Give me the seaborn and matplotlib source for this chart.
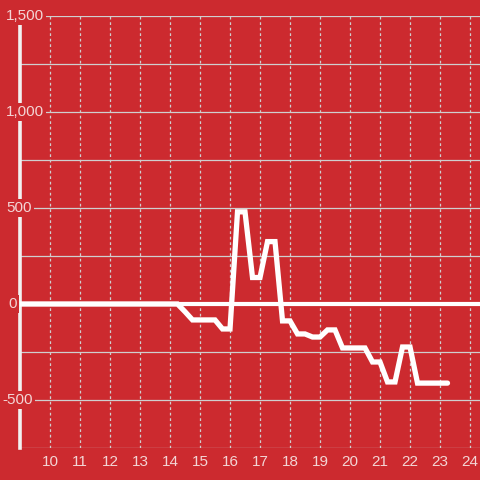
import matplotlib
matplotlib.use("Agg")
import matplotlib.pyplot as plt
import matplotlib.transforms as mtransforms
import seaborn as sns
import pandas as pd

# ---- data ----
hours = [9.0, 9.25, 9.5, 9.75, 10.0, 10.25, 10.5, 10.75, 11.0, 11.25, 11.5, 11.75,
         12.0, 12.25, 12.5, 12.75, 13.0, 13.25, 13.5, 13.75, 14.0, 14.25, 14.5, 14.75,
         15.0, 15.25, 15.5, 15.75, 16.0, 16.25, 16.5, 16.75, 17.0, 17.25, 17.5, 17.75,
         18.0, 18.25, 18.5, 18.75, 19.0, 19.25, 19.5, 19.75, 20.0, 20.25, 20.5, 20.75,
         21.0, 21.25, 21.5, 21.75, 22.0, 22.25, 22.5, 22.75, 23.0, 23.25]
values = [0, 0, 0, 0, 0, 0, 0, 0, 0, 0, 0, 0,
          0, 0, 0, 0, 0, 0, 0, 0, 0, 0, -40, -83,
          -83, -83, -83, -130, -130, 480, 480, 138, 138, 325, 325, -88,
          -88, -156, -156, -172, -172, -135, -135, -229, -229, -229, -229, -302,
          -302, -406, -406, -224, -224, -412, -412, -412, -412, -412]
x_ticks = [10, 11, 12, 13, 14, 15, 16, 17, 18, 19, 20, 21, 22, 23, 24]
y_ticks = [-500, 0, 500, 1000, 1500]
y_tick_labels = ["-500", "0", "500", "1,000", "1,500"]
y_grid = [-750, -500, -250, 0, 250, 500, 750, 1000, 1250, 1500]

BG = "#CC2A2F"
GRID = "#CFCFCF"
LABEL = "#F3D5D5"

sns.set_style("white", {"axes.facecolor": BG, "figure.facecolor": BG})
plt.rcParams["font.family"] = ["Liberation Sans", "DejaVu Sans"]

fig = plt.figure(figsize=(4.8, 4.8), dpi=100)
ax = fig.add_axes([20 / 480, 1 - 448 / 480, 1 - 20 / 480, (448 - 16) / 480])
ax.set_facecolor(BG)

df = pd.DataFrame({"hour": hours, "value": values})

ax.set_xlim(9.0, 24.333)
ax.set_ylim(-750, 1500)

# grid
for g in y_grid:
    ax.axhline(g, color=GRID, lw=0.9, zorder=1)
for t in x_ticks:
    ax.axvline(t, color=GRID, lw=0.9, linestyle=(0, (2.2, 2.2)), zorder=1)

# zero line
ax.axhline(0, color="white", lw=3.0, zorder=2)

sns.lineplot(data=df, x="hour", y="value", ax=ax, color="white", lw=3.8,
             zorder=4, solid_joinstyle="miter")

for s in ["top", "right", "bottom"]:
    ax.spines[s].set_visible(False)
ax.spines["left"].set_color("#F2F2F2")
ax.spines["left"].set_linewidth(2.6)
ax.spines["left"].set_zorder(3)

ax.set_xticks(x_ticks)
ax.set_xticklabels([str(t) for t in x_ticks])
ax.tick_params(axis="x", length=0, pad=5, labelsize=11, labelcolor=LABEL)
ax.set_yticks([])
ax.set_xlabel("")
ax.set_ylabel("")

trans = mtransforms.blended_transform_factory(fig.transFigure, ax.transData)
for v, lab in zip(y_ticks, y_tick_labels):
    xp = 2 / 480 if lab.startswith("-") else (8 / 480 if lab == "0" else 6 / 480)
    ax.text(xp, v, lab, transform=trans, ha="left", va="center",
            fontsize=11, color=LABEL, zorder=6, clip_on=False,
            bbox=dict(boxstyle="square,pad=0.15", fc=BG, ec="none"))

fig.savefig("out.png", dpi=100, facecolor=BG)
